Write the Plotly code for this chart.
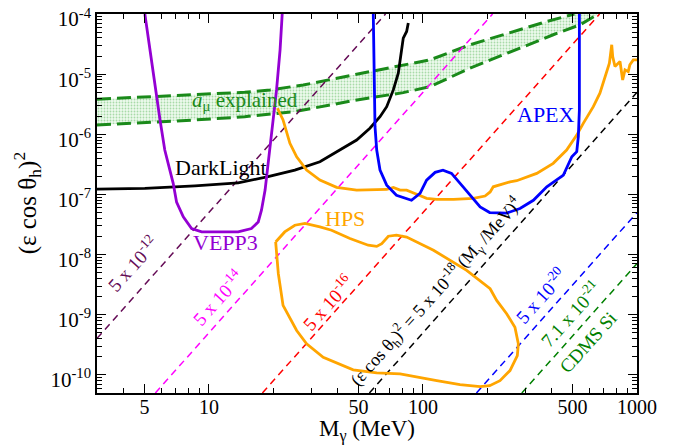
import plotly.graph_objects as go

FONT = "Liberation Serif"

# ---------------- data ----------------
vepp3_x = [5.02, 5.30, 5.60, 5.91, 6.22, 6.81, 7.06, 7.59, 8.30, 9.25, 13.7, 15.8, 17.0, 17.6, 18.3, 18.9, 19.6, 20.7, 21.5, 22.0]
vepp3_y = [1e-4, 2.54e-5, 6.2e-6, 1.73e-6, 5.47e-7, 1.53e-7, 7.5e-8, 4.23e-8, 2.71e-8, 2.38e-8,
           2.38e-8, 2.71e-8, 3.49e-8, 5.47e-8, 1.18e-7, 3.29e-7, 1.04e-6, 5.47e-6, 2.54e-5, 1e-4]

darklight_x = [3, 5.02, 8.6, 13.7, 18.9, 25.2, 33.0, 39.5, 49.0, 56.5, 63.0, 67.7, 72.7, 76.7, 79.5, 80.9, 83.9, 85.4]
darklight_y = [1.23e-7, 1.26e-7, 1.39e-7, 1.56e-7, 1.97e-7, 2.54e-7, 3.49e-7, 5.13e-7, 8.04e-7, 1.26e-6,
               1.96e-6, 2.88e-6, 5.47e-6, 1.04e-5, 2.54e-5, 3.98e-5, 5.13e-5, 7.08e-5]

apex_x = [58.6, 59.0, 59.7, 60.8, 63.0, 67.7, 75.2, 88.4, 96.9, 104, 114, 124, 136, 154, 185, 205, 246,
          284, 328, 379, 421, 453, 496, 523, 532, 538, 538]
apex_y = [1e-4, 9.1e-6, 1.34e-6, 5.47e-7, 2.54e-7, 1.43e-7, 9.7e-8, 8.0e-8, 1.04e-7, 1.73e-7, 2.33e-7,
          2.54e-7, 2.24e-7, 1.34e-7, 6.2e-8, 5.0e-8, 4.9e-8, 5.84e-8, 8.0e-8, 1.34e-7, 1.73e-7, 2.1e-7,
          4.23e-7, 5.13e-7, 9.1e-7, 2.54e-6, 1e-4]

hps_top_x = [20.9, 22.2, 23.9, 25.7, 28.6, 33.0, 39.5, 49.0, 67.7, 72.7, 78.2, 83.9, 93.5, 104, 116, 139,
             172, 195, 206, 213, 255, 274, 340, 406, 469, 523, 561, 625, 671, 709, 743, 762, 770, 789,
             833, 857, 879, 910, 926, 961, 1000]
hps_top_y = [2.71e-6, 1.73e-6, 7.08e-7, 4.23e-7, 2.54e-7, 1.73e-7, 1.31e-7, 1.18e-7, 1.21e-7, 1.31e-7,
             1.18e-7, 1.18e-7, 1.01e-7, 8.6e-8, 8.3e-8, 8.3e-8, 8.6e-8, 9.4e-8, 1.1e-7, 1.34e-7, 1.62e-7,
             1.69e-7, 2.24e-7, 3.29e-7, 5.47e-7, 9.7e-7, 1.52e-6, 2.88e-6, 4.82e-6, 9.1e-6, 1.52e-5,
             3.08e-5, 1.96e-5, 1.34e-5, 1.62e-5, 8.0e-6, 1.18e-5, 1.1e-5, 1.43e-5, 1.73e-5, 1.73e-5]

hps_loop_x = [20.5, 22.6, 25.2, 28.1, 33.0, 37.4, 45.6, 55.5, 60.8, 64.2, 68.9, 75.2, 83.9, 112, 160,
              206, 221, 246, 269, 279, 276, 255, 229, 205, 185, 149, 116, 78.2, 60.8, 47.2, 34.2, 28.6,
              25.7, 22.2, 21.1, 20.5]
hps_loop_y = [1.62e-8, 2.38e-8, 3.08e-8, 3.29e-8, 2.88e-8, 2.54e-8, 1.85e-8, 1.43e-8, 1.37e-8, 1.52e-8,
              2.02e-8, 2.1e-8, 1.96e-8, 1.18e-8, 5.47e-9, 2.71e-9, 1.73e-9, 1.04e-9, 6.2e-10, 3.29e-10,
              2.1e-10, 1.18e-10, 8.0e-11, 6.6e-11, 6.4e-11, 6.9e-11, 8.0e-11, 1.04e-10, 1.08e-10,
              1.21e-10, 1.96e-10, 3.29e-10, 5.47e-10, 1.43e-9, 4.82e-9, 1.62e-8]

band_up_x = [3, 5.0, 8.6, 14.7, 19.3, 27.6, 47.2, 80.9, 108, 166, 284, 379, 510]
band_up_y = [3.83e-6, 4.14e-6, 4.52e-6, 5.0e-6, 5.47e-6, 6.6e-6, 9.7e-6, 1.43e-5, 1.73e-5, 3.08e-5,
             5.47e-5, 7.5e-5, 1e-4]
band_lo_x = [3, 5.0, 8.6, 14.7, 25.2, 47.2, 80.9, 108, 166, 284, 406, 541, 660]
band_lo_y = [1.43e-6, 1.56e-6, 1.73e-6, 1.96e-6, 2.38e-6, 3.63e-6, 4.93e-6, 6.2e-6, 1.26e-5, 2.71e-5,
             4.52e-5, 6.6e-5, 1e-4]

# diagonal reference lines (end points)
d12_x, d12_y = [3, 66.9], [4.05e-10, 1e-4]
d14_x, d14_y = [5.62, 211.5], [5e-11, 1e-4]
d16_x, d16_y = [17.78, 668.7], [5e-11, 1e-4]
d18_x, d18_y = [56.2, 1000], [5e-11, 5e-6]
d20_x, d20_y = [177.8, 1000], [5e-11, 5e-8]
d21_x, d21_y = [289.7, 1000], [5e-11, 7.1e-9]

x_tickvals = [5, 10, 50, 100, 500, 1000]
x_ticktext = ["5", "10", "50", "100", "500", "1000"]
x_minor = [3, 4, 6, 7, 8, 9, 20, 30, 40, 60, 70, 80, 90, 200, 300, 400, 600, 700, 800, 900]
y_exps = [-10, -9, -8, -7, -6, -5, -4]

# ---------------- figure ----------------
fig = go.Figure()

GREEN = "#1a8a1a"
poly_x = band_up_x + band_lo_x[::-1]
poly_y = band_up_y + band_lo_y[::-1]
fig.add_trace(go.Scatter(x=poly_x, y=poly_y, mode="lines", fill="toself", line=dict(width=0),
                         fillcolor="rgba(0,0,0,0)",
                         fillpattern=dict(shape=".", fgcolor="rgba(40,160,40,0.7)", bgcolor="rgba(225,245,225,0.6)",
                                          size=3, solidity=0.3),
                         hoverinfo="skip", showlegend=False))
for bx, by in [(band_up_x, band_up_y), (band_lo_x, band_lo_y)]:
    fig.add_trace(go.Scatter(x=bx, y=by, mode="lines", line=dict(color=GREEN, width=3, dash="14px,6px"),
                             showlegend=False))

diag = [(d12_x, d12_y, "rgb(100,10,85)"), (d14_x, d14_y, "#ff00ff"), (d16_x, d16_y, "#ff0000"),
        (d18_x, d18_y, "#000000"), (d20_x, d20_y, "#0000ff"), (d21_x, d21_y, "#008000")]
for dx, dy, c in diag:
    fig.add_trace(go.Scatter(x=dx, y=dy, mode="lines", line=dict(color=c, width=1.5, dash="7px,5px"),
                             showlegend=False))

LW = 2.8
fig.add_trace(go.Scatter(x=darklight_x, y=darklight_y, mode="lines", line=dict(color="black", width=LW),
                         showlegend=False))
fig.add_trace(go.Scatter(x=hps_top_x, y=hps_top_y, mode="lines", line=dict(color="orange", width=LW),
                         showlegend=False))
fig.add_trace(go.Scatter(x=hps_loop_x, y=hps_loop_y, mode="lines", line=dict(color="orange", width=LW),
                         showlegend=False))
fig.add_trace(go.Scatter(x=vepp3_x, y=vepp3_y, mode="lines", line=dict(color="#9400d3", width=LW),
                         showlegend=False))
fig.add_trace(go.Scatter(x=apex_x, y=apex_y, mode="lines", line=dict(color="#0000ff", width=LW),
                         showlegend=False))

ANG = -48
ann = [
    ("DarkLight", 1.056, -6.545, "black", 22, 0),
    ("VEPP3", 1.079, -7.795, "#9400d3", 22, 0),
    ("HPS", 1.636, -7.395, "orange", 22, 0),
    ("APEX", 2.575, -5.678, "#0000ff", 22, 0),
    ("<i>a</i><sub>μ</sub> explained", 1.168, -5.445, GREEN, 21, 0),
    ("5 x 10<sup>-12</sup>", 0.645, -8.145, "rgb(100,10,85)", 19, ANG),
    ("5 x 10<sup>-14</sup>", 1.042, -8.712, "#ff00ff", 19, ANG),
    ("5 x 10<sup>-16</sup>", 1.556, -8.795, "#ff0000", 19, ANG),
    ("(ε cos θ<sub>h</sub>)<sup>2</sup> = 5 x 10<sup>-18</sup> (M<sub>γ</sub> /MeV)<sup>4</sup>", 2.061, -8.612, "black", 18, ANG),
    ("5 x 10<sup>-20</sup>", 2.551, -8.678, "#0000ff", 19, ANG),
    ("7.1 x 10<sup>-21</sup>", 2.687, -8.995, "#008000", 19, ANG),
    ("CDMS Si", 2.771, -9.462, "#008000", 19, ANG),
]
for t, ax, ay, c, s, a in ann:
    fig.add_annotation(x=ax, y=ay, xref="x", yref="y", text=t, showarrow=False, textangle=a,
                       font=dict(family=FONT, size=s, color=c))

# axis titles
fig.add_annotation(x=0.5, y=-0.1, xref="paper", yref="paper", text="M<sub>γ</sub> (MeV)",
                   showarrow=False, xanchor="center", yanchor="middle",
                   font=dict(family=FONT, size=23, color="black"))
fig.add_annotation(x=-0.13, y=0.5, xref="paper", yref="paper", text="(ε cos θ<sub>h</sub>)<sup>2</sup>",
                   showarrow=False, textangle=-90, xanchor="center", yanchor="middle",
                   font=dict(family=FONT, size=25, color="black"))

fig.update_layout(
    width=675, height=445,
    margin=dict(l=97, r=38, t=14, b=52, autoexpand=False),
    paper_bgcolor="white", plot_bgcolor="white",
    font=dict(family=FONT, size=20, color="black"),
    showlegend=False,
)
fig.update_xaxes(type="log", range=[0.47712, 3], showgrid=False, zeroline=False, automargin=False,
                 showline=True, linecolor="black", linewidth=1.5, mirror="ticks",
                 ticks="inside", ticklen=9, tickwidth=1.2, tickcolor="black",
                 tickmode="array", tickvals=x_tickvals, ticktext=x_ticktext,
                 tickfont=dict(family=FONT, size=20), ticklabeloverflow="allow", ticklabelstandoff=-5,
                 minor=dict(ticks="inside", ticklen=5, tickwidth=1, tickcolor="black",
                            tickmode="array", tickvals=x_minor, showgrid=False))
y_minor = [m * 10.0 ** e for e in range(-11, -4) for m in range(2, 10) if 5e-11 < m * 10.0 ** e < 1e-4]
fig.update_yaxes(type="log", range=[-10.30103, -4], showgrid=False, zeroline=False, automargin=False,
                 showline=True, linecolor="black", linewidth=1.5, mirror="ticks",
                 ticks="inside", ticklen=9, tickwidth=1.2, tickcolor="black",
                 tickmode="array", tickvals=[10.0 ** e for e in y_exps],
                 ticktext=["10<sup>%d</sup>" % e for e in y_exps],
                 tickfont=dict(family=FONT, size=21), ticklabeloverflow="allow", ticklabelshift=5,
                 minor=dict(ticks="inside", ticklen=5, tickwidth=1, tickcolor="black",
                            tickmode="array", tickvals=y_minor, showgrid=False))

fig.write_html("out.html", post_script="document.body.style.margin='0px';",
               config={"displayModeBar": False})
